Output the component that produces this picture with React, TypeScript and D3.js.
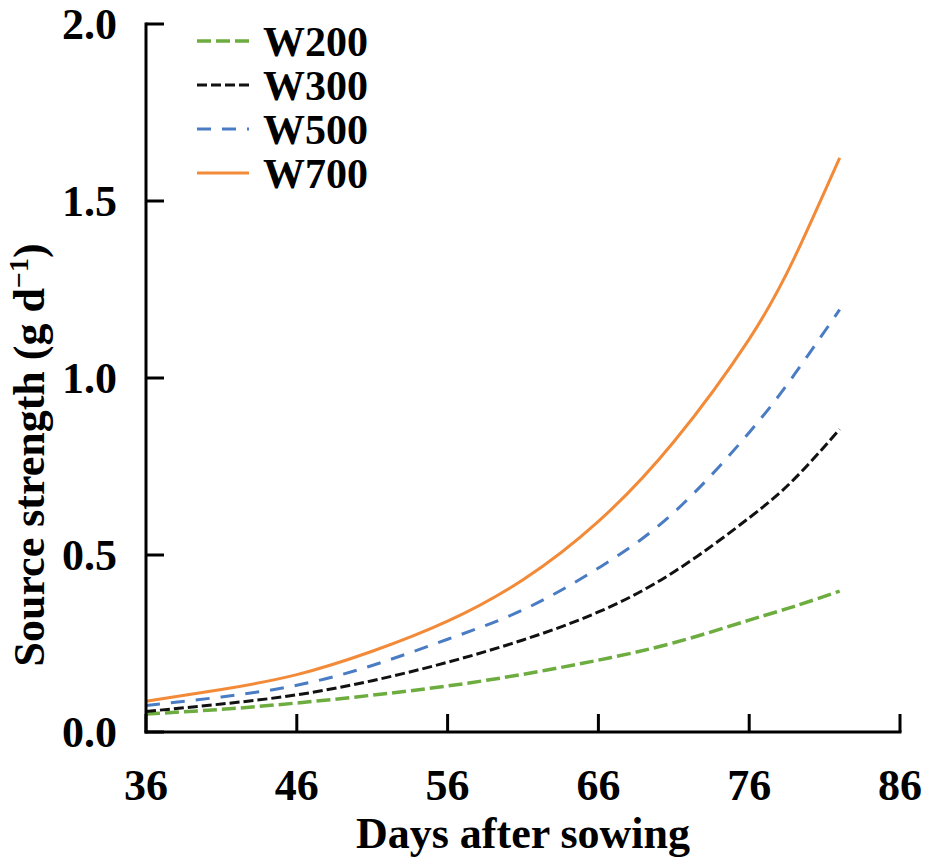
import React from "react";
import * as d3 from "d3";

const days = [36, 41, 46, 51, 56, 61, 66, 71, 76, 79, 82];
const w200 = [0.051, 0.064, 0.082, 0.104, 0.130, 0.163, 0.203, 0.252, 0.316, 0.355, 0.398];
const w300 = [0.058, 0.079, 0.105, 0.145, 0.197, 0.26, 0.339, 0.452, 0.605, 0.715, 0.855];
const w500 = [0.075, 0.099, 0.132, 0.188, 0.262, 0.345, 0.463, 0.62, 0.846, 1.01, 1.193];
const w700 = [0.087, 0.12, 0.162, 0.228, 0.313, 0.43, 0.595, 0.82, 1.11, 1.34, 1.622];
const xTicks = [36, 46, 56, 66, 76, 86];
const yTicks = [0, 0.5, 1.0, 1.5, 2.0];
const seriesNames = ["W200", "W300", "W500", "W700"];

const FONT = "'Liberation Serif', 'Times New Roman', serif";

export default function App() {
  const width = 925;
  const height = 861;
  const x = d3.scaleLinear().domain([36, 86]).range([146, 900]);
  const y = d3.scaleLinear().domain([0, 2]).range([732, 24]);

  const styles = [
    { color: "#6DAD3F", dash: "14 5", width: 3.5 },
    { color: "#111111", dash: "10 4", width: 3 },
    { color: "#4A7CC4", dash: "14 11", width: 3 },
    { color: "#F28A38", dash: "", width: 3 },
  ];
  const data = [w200, w300, w500, w700];

  const line = d3
    .line<number>()
    .x((_, i) => x(days[i]))
    .y((v) => y(v))
    .curve(d3.curveNatural);

  const axisColor = "#000";
  const tickLen = 18;

  return (
    <svg width={width} height={height} style={{ position: "absolute", left: 0, top: 0, background: "#fff" }}>
      <rect x={0} y={0} width={width} height={height} fill="#fff" />
      {data.map((vals, i) => (
        <path
          key={seriesNames[i]}
          d={line(vals) || ""}
          fill="none"
          stroke={styles[i].color}
          strokeWidth={styles[i].width}
          strokeDasharray={styles[i].dash || undefined}
        />
      ))}
      <line x1={x(36)} y1={y(0)} x2={x(86)} y2={y(0)} stroke={axisColor} strokeWidth={3} strokeLinecap="square" />
      <line x1={x(36)} y1={y(0)} x2={x(36)} y2={y(2)} stroke={axisColor} strokeWidth={3} strokeLinecap="square" />
      {xTicks.map((t) => (
        <g key={"xt" + t}>
          <line x1={x(t)} y1={y(0)} x2={x(t)} y2={y(0) - tickLen} stroke={axisColor} strokeWidth={3} />
          <text x={x(t)} y={800} textAnchor="middle" fontFamily={FONT} fontWeight="bold" fontSize={44} fill="#000">
            {t}
          </text>
        </g>
      ))}
      {yTicks.map((t) => (
        <g key={"yt" + t}>
          <line x1={x(36)} y1={y(t)} x2={x(36) + tickLen} y2={y(t)} stroke={axisColor} strokeWidth={3} />
          <text x={117} y={y(t) + 15} textAnchor="end" fontFamily={FONT} fontWeight="bold" fontSize={44} fill="#000">
            {t.toFixed(1)}
          </text>
        </g>
      ))}
      <text x={x(61)} y={848} textAnchor="middle" fontFamily={FONT} fontWeight="bold" fontSize={44} fill="#000">
        Days after sowing
      </text>
      <text
        transform="translate(44,455) rotate(-90)"
        textAnchor="middle"
        fontFamily={FONT}
        fontWeight="bold"
        fontSize={44}
        fill="#000"
      >
        Source strength (g d
        <tspan fontSize={28} dy={-16}>−1</tspan>
        <tspan dy={16}>)</tspan>
      </text>
      {seriesNames.map((name, i) => {
        const ly = 41 + i * 44;
        return (
          <g key={"lg" + name}>
            <line
              x1={197}
              y1={ly}
              x2={249}
              y2={ly}
              stroke={styles[i].color}
              strokeWidth={styles[i].width}
              strokeDasharray={styles[i].dash || undefined}
            />
            <text x={263} y={ly + 15} fontFamily={FONT} fontWeight="bold" fontSize={42} fill="#000">
              {name}
            </text>
          </g>
        );
      })}
    </svg>
  );
}
